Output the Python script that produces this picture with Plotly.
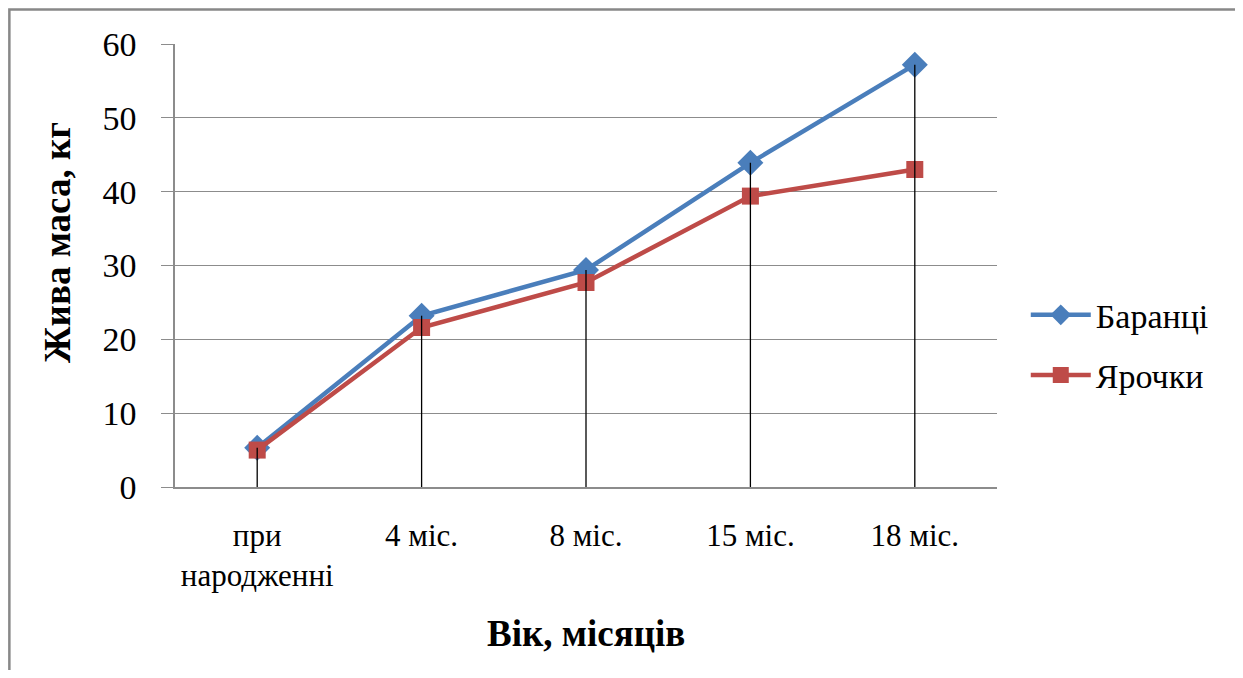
import plotly.graph_objects as go

categories = ["при<br>народженні", "4 міс.", "8 міс.", "15 міс.", "18 міс."]
barantsi = [5.3, 23.2, 29.4, 43.9, 57.2]
yarochky = [5.0, 21.6, 27.7, 39.4, 43.0]
y_ticks = [0, 10, 20, 30, 40, 50, 60]

FONT = "'Liberation Serif', 'Times New Roman', Times, serif"
GRID = "#8c8c8c"

fig = go.Figure()

fig.add_trace(go.Scatter(
    x=categories, y=barantsi, name="Баранці", mode="lines+markers",
    legendgroup="a",
    line=dict(color="#4a7ebb", width=4.5),
    marker=dict(symbol="diamond", size=20, color="#4a7ebb"),
))
fig.add_trace(go.Scatter(
    x=categories, y=yarochky, name="Ярочки", mode="lines+markers",
    legendgroup="b",
    line=dict(color="#be4b48", width=4.5),
    marker=dict(symbol="square", size=17, color="#be4b48"),
))

# drop lines from the highest point to the axis
dx, dy = [], []
for c, a, b in zip(categories, barantsi, yarochky):
    dx += [c, c, None]
    dy += [0, max(a, b), None]
fig.add_trace(go.Scatter(
    x=dx, y=dy, mode="lines", showlegend=False, hoverinfo="skip",
    line=dict(color="black", width=1.3),
))

fig.update_layout(
    width=1227, height=662,
    margin=dict(l=167, r=238, t=36, b=183),
    paper_bgcolor="white", plot_bgcolor="white",
    font=dict(family=FONT, color="black"),
    showlegend=True,
    legend=dict(
        x=1.035, y=0.32, xanchor="left", yanchor="middle",
        font=dict(family=FONT, size=34, color="black"),
        bgcolor="rgba(0,0,0,0)", tracegroupgap=13, itemwidth=60,
    ),
    xaxis=dict(
        type="category", range=[-0.5, 4.5],
        showgrid=False, showline=True, linecolor=GRID, linewidth=1.5,
        ticks="", tickfont=dict(family=FONT, size=31, color="black"),
        ticklabelstandoff=20, zeroline=False,
    ),
    yaxis=dict(
        range=[0, 60], tickvals=y_ticks,
        showgrid=True, gridcolor=GRID, gridwidth=1,
        showline=True, linecolor=GRID, linewidth=1.5,
        ticks="outside", ticklen=12, tickcolor=GRID, tickwidth=1,
        tickfont=dict(family=FONT, size=34, color="black"),
        ticklabelstandoff=18, zeroline=False,
    ),
    annotations=[
        dict(text="<b>Жива маса, кг</b>", textangle=-90,
             x=-0.1436, y=0.553, xref="paper", yref="paper",
             xanchor="center", yanchor="middle", showarrow=False,
             font=dict(family=FONT, size=37, color="black")),
        dict(text="<b>Вік, місяців</b>",
             x=0.5, y=-0.3296, xref="paper", yref="paper",
             xanchor="center", yanchor="middle", showarrow=False,
             font=dict(family=FONT, size=37, color="black")),
    ],
    shapes=[
        dict(type="rect", xref="paper", yref="paper",
             x0=-0.2015, x1=1.31, y0=-0.46, y1=1.078,
             line=dict(color="#888888", width=2.5), fillcolor="rgba(0,0,0,0)",
             layer="below"),
    ],
)

fig.write_html("out.html")
